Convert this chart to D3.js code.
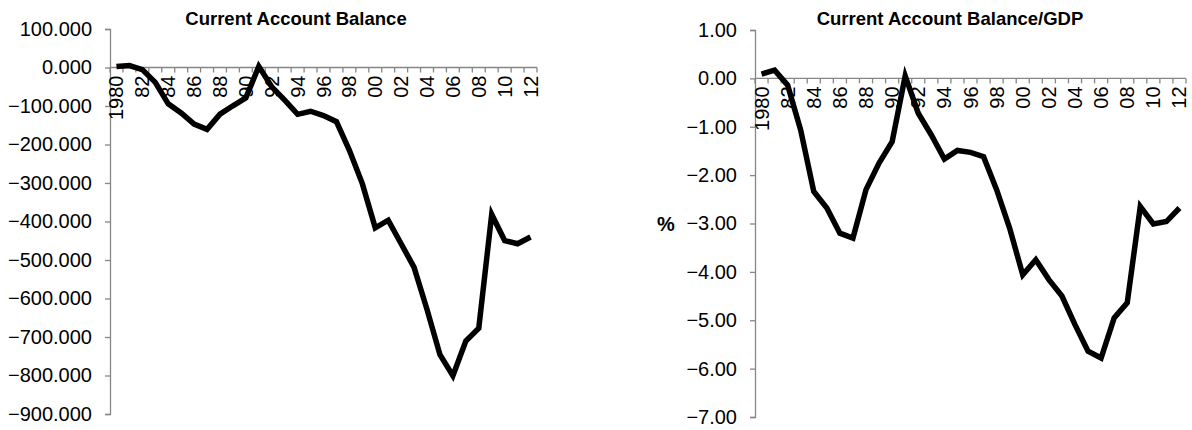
<!DOCTYPE html>
<html>
<head>
<meta charset="utf-8">
<script src="https://cdn.jsdelivr.net/npm/d3@7"></script>
<style>
  html, body { margin: 0; padding: 0; background: #fff; }
  svg text { font-family: "Liberation Sans", Arial, sans-serif; fill: #000; }
</style>
</head>
<body>
<svg id="chart" width="1192" height="430"></svg>
<script>
// Years on the category axis
const years = [1980, 1981, 1982, 1983, 1984, 1985, 1986, 1987, 1988, 1989, 1990,
  1991, 1992, 1993, 1994, 1995, 1996, 1997, 1998, 1999, 2000, 2001, 2002, 2003,
  2004, 2005, 2006, 2007, 2008, 2009, 2010, 2011, 2012];

// Current account balance (billions)
const balance = [2.3, 5.0, -5.5, -38.7, -94.3, -118.2, -147.2, -160.7, -121.2, -99.5,
  -79.0, 2.9, -50.1, -84.8, -121.6, -113.6, -124.8, -140.7, -215.1, -301.6, -416.3,
  -396.7, -457.8, -519.1, -628.5, -745.8, -800.6, -710.3, -677.1, -381.6, -449.5,
  -457.7, -440.4];

// Current account balance as a share of GDP (%)
const balanceGdp = [0.09, 0.17, -0.14, -1.07, -2.34, -2.68, -3.2, -3.3, -2.3, -1.75,
  -1.31, 0.05, -0.72, -1.17, -1.67, -1.49, -1.53, -1.62, -2.3, -3.1, -4.06, -3.75,
  -4.16, -4.5, -5.09, -5.64, -5.78, -4.95, -4.64, -2.65, -3.01, -2.96, -2.68];

// Axis tick values
const balanceTicks = [100, 0, -100, -200, -300, -400, -500, -600, -700, -800, -900];
const gdpTicks = [1, 0, -1, -2, -3, -4, -5, -6, -7];
const yearLabels = ["1980", "82", "84", "86", "88", "90", "92", "94", "96", "98",
  "00", "02", "04", "06", "08", "10", "12"];
const labelYears = [1980, 1982, 1984, 1986, 1988, 1990, 1992, 1994, 1996, 1998,
  2000, 2002, 2004, 2006, 2008, 2010, 2012];

const svg = d3.select("#chart");
const axisColor = "#868686";
const tickFont = "20px";

function drawPanel(cfg) {
  const g = svg.append("g");
  const x = d3.scaleBand().domain(years).range([cfg.left, cfg.right]);
  const y = d3.scaleLinear().domain(cfg.domain).range([cfg.bottom, cfg.top]);

  // Title
  g.append("text")
    .attr("x", cfg.titleX).attr("y", 25)
    .attr("text-anchor", "middle")
    .style("font-size", "18.5px").style("font-weight", "bold")
    .text(cfg.title);

  // Value axis
  const yAxis = g.append("g")
    .attr("transform", `translate(${cfg.left},0)`)
    .call(d3.axisLeft(y).tickValues(cfg.ticks).tickFormat(d3.format(cfg.fmt))
      .tickSizeOuter(0).tickSize(5).tickPadding(13));
  yAxis.select(".domain").attr("stroke", axisColor).attr("stroke-width", 1.3);
  yAxis.selectAll(".tick line").attr("stroke", axisColor).attr("stroke-width", 1.3);
  yAxis.selectAll(".tick text")
    .style("font-size", tickFont)
    .attr("fill", "#000");

  // Category axis at zero, tick marks between categories
  const y0 = y(0);
  const bounds = years.map(d => x(d)).concat([x(years[years.length - 1]) + x.bandwidth()]);
  g.append("line")
    .attr("x1", cfg.left).attr("x2", cfg.right)
    .attr("y1", y0).attr("y2", y0)
    .attr("stroke", axisColor).attr("stroke-width", 1.3);
  g.selectAll(".xtick").data(bounds).join("line")
    .attr("x1", d => d).attr("x2", d => d)
    .attr("y1", y0).attr("y2", y0 + 5)
    .attr("stroke", axisColor).attr("stroke-width", 1.3);

  // Rotated year labels
  g.selectAll(".xlabel").data(labelYears).join("text")
    .attr("transform", (d) => `translate(${x(d) + x.bandwidth() / 2 + 7},${y0 + 8}) rotate(-90)`)
    .attr("text-anchor", "end")
    .style("font-size", tickFont)
    .text((d, i) => yearLabels[i]);

  // Series line
  const line = d3.line()
    .x((d, i) => x(years[i]) + x.bandwidth() / 2)
    .y(d => y(d));
  g.append("path")
    .datum(cfg.values)
    .attr("d", line)
    .attr("fill", "none")
    .attr("stroke", "#000")
    .attr("stroke-width", 5.5)
    .attr("stroke-linejoin", "miter");

  if (cfg.unit) {
    g.append("text")
      .attr("x", cfg.unitX).attr("y", y(-3) + 7)
      .attr("text-anchor", "middle")
      .style("font-size", "20px").style("font-weight", "bold")
      .text(cfg.unit);
  }
}

drawPanel({
  title: "Current Account Balance", titleX: 296,
  left: 110, right: 537, top: 29, bottom: 414,
  domain: [-900, 100], ticks: balanceTicks, fmt: ".3f",
  values: balance
});

drawPanel({
  title: "Current Account Balance/GDP", titleX: 950,
  left: 755, right: 1186, top: 30, bottom: 417,
  domain: [-7, 1], ticks: gdpTicks, fmt: ".2f",
  values: balanceGdp, unit: "%", unitX: 666
});
</script>
</body>
</html>
